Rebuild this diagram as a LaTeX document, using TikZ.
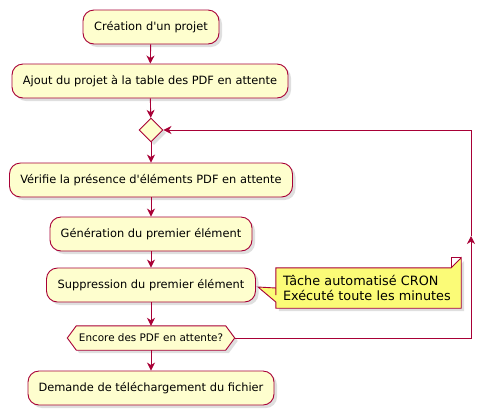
\documentclass[tikz,border=0pt]{standalone}
\usepackage{fontspec}
\setmainfont{DejaVu Sans}[Ligatures=TeXOff]
\usetikzlibrary{arrows.meta,shapes.geometric,shadows,backgrounds}
\definecolor{pfill}{HTML}{FEFECE}
\definecolor{pline}{HTML}{A80036}
\definecolor{nfill}{HTML}{FBFB77}
\tikzset{
  shad/.style={drop shadow={opacity=0.25,shadow xshift=3pt,shadow yshift=-3pt}},
  act/.style={draw=pline,fill=pfill,line width=0.9pt,rounded corners=11pt,
    minimum height=34pt,inner sep=0pt,font=\fontsize{11.4}{13}\selectfont,shad},
  arr/.style={draw=pline,line width=0.9pt,-{Stealth[length=8pt,width=8pt,inset=2.5pt]}},
  dec/.style={draw=pline,fill=pfill,line width=0.9pt,diamond,inner sep=0pt,minimum width=24pt,minimum height=24pt,shad},
}
\begin{document}
\begin{tikzpicture}[x=1pt,y=-1pt]
\useasboundingbox (0,0) rectangle (497,416);
\begin{scope}[on background layer]
\fill[white] (0,0) rectangle (497,416);
\end{scope}
\node[act,minimum width=136pt] (n1) at (151,27) {Création d'un projet};
\node[act,minimum width=276pt] (n2) at (150,81) {Ajout du projet à la table des PDF en attente};
\node[dec] (dia) at (151,130) {};
\node[act,minimum width=283pt] (n3) at (151,180) {Vérifie la présence d'éléments PDF en attente};
\node[act,minimum width=202pt] (n4) at (151,234) {Génération du premier élément};
\node[act,minimum width=209pt] (n5) at (151,285) {Suppression du premier élément};
\node[minimum width=167pt,minimum height=24pt,inner sep=0pt,font=\fontsize{10.4}{12}\selectfont] (hex) at (151,338) {Encore des PDF en attente?};
\begin{scope}[on background layer]
\path[draw=pline,fill=pfill,line width=0.9pt,shad]
  (hex.west) -- ([xshift=9pt]hex.north west) -- ([xshift=-9pt]hex.north east) -- (hex.east)
  -- ([xshift=-9pt]hex.south east) -- ([xshift=9pt]hex.south west) -- cycle;
\end{scope}
\node[act,minimum width=246pt] (n6) at (151,388) {Demande de téléchargement du fichier};
% note
\node[text width=171pt,inner xsep=7pt,inner ysep=0pt,minimum height=40pt,align=left,font=\fontsize{12.8}{15}\selectfont] (note) at (368.5,288) {Tâche automatisé CRON\\Exécuté toute les minutes};
\coordinate (tip) at (258,287);
\begin{scope}[on background layer]
\path[draw=pline,fill=nfill,line width=0.9pt,shad]
  (note.north west) -- ([xshift=-10pt]note.north east) -- ([yshift=10pt]note.north east)
  -- (note.south east) -- (note.south west) -- ([yshift=-14pt]note.west) -- (tip)
  -- ([yshift=-1pt]note.west |- tip) -- ([yshift=-7pt]note.west) -- cycle;
\draw[draw=pline,line width=0.9pt] ([xshift=-10pt]note.north east) -- ([xshift=-10pt,yshift=10pt]note.north east) -- ([yshift=10pt]note.north east);
\end{scope}
% connectors
\draw[arr] (n1) -- (n2);
\draw[arr] (n2) -- (dia);
\draw[arr] (dia) -- (n3);
\draw[arr] (n3) -- (n4);
\draw[arr] (n4) -- (n5);
\draw[arr] (n5) -- (hex);
\draw[arr] (hex) -- (n6);
\coordinate (lb) at (471,338);
\coordinate (lm) at (471,236);
\coordinate (lt) at (471,130);
\draw[arr] (hex.east) -- (lb) -- (lm);
\draw[arr] (lm) -- (lt) -- (dia.east);
\end{tikzpicture}
\end{document}
